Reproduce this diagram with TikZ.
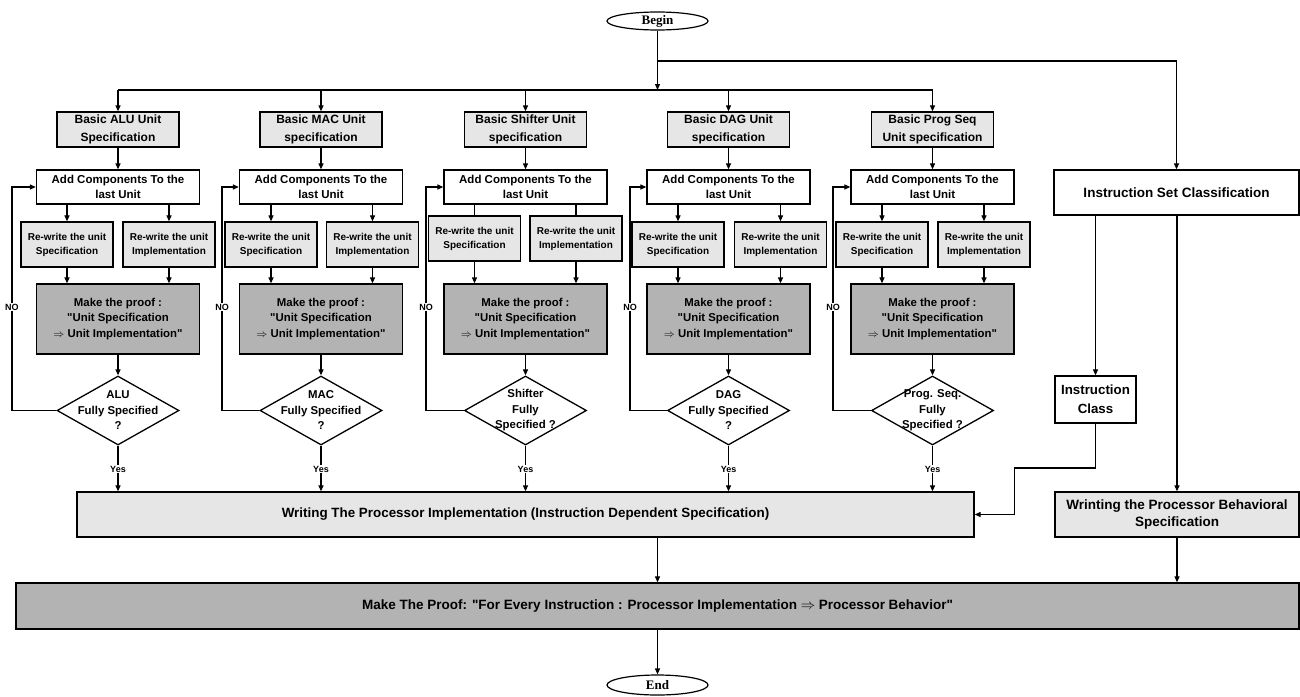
\documentclass[tikz,border=0pt]{standalone}
\usepackage{fontspec}
\setmainfont{Liberation Sans}[Ligatures=TeXOff]
\newfontfamily\serifbf{Liberation Serif}
\usetikzlibrary{arrows.meta,shapes.geometric}
\definecolor{lg}{HTML}{E6E6E6}
\definecolor{dg}{HTML}{B3B3B3}
\newcommand{\sq}{\symbol{34}}
\tikzset{
  bx/.style={draw, line width=1.3pt, inner sep=0pt, align=center, font=\bfseries},
  arr/.style={line width=1.2pt, -{Triangle[length=6pt,width=5pt]}},
  pln/.style={line width=1.2pt},
  basicbox/.style={bx, fill=lg, minimum width=122pt, minimum height=35pt, font=\bfseries\fontsize{12}{17.5}\selectfont},
  addbox/.style={bx, fill=white, minimum width=163pt, minimum height=34pt, font=\bfseries\fontsize{11.5}{14.3}\selectfont},
  rwbox/.style={bx, fill=lg, minimum width=92pt, minimum height=45pt, font=\bfseries\fontsize{10}{14}\selectfont},
  proofbox/.style={bx, fill=dg, minimum width=163pt, minimum height=70pt, font=\bfseries\fontsize{11.4}{15.5}\selectfont},
  dia/.style={draw, line width=1.3pt, shape=diamond, inner sep=0pt, minimum width=122pt, minimum height=69pt, fill=white},
  diatext/.style={align=center, inner sep=0pt, font=\bfseries\fontsize{11.4}{15.5}\selectfont},
  lbl/.style={fill=white, inner sep=1pt, font=\bfseries\fontsize{9}{10}\selectfont},
  oval/.style={draw, line width=1.2pt, shape=ellipse, inner sep=0pt, font=\serifbf\bfseries\fontsize{13}{14}\selectfont}
}
\begin{document}
\begin{tikzpicture}[x=1pt,y=-1pt]
\useasboundingbox (0,0) rectangle (1300,696);

\node[oval, minimum width=101pt, minimum height=18pt] (beg) at (657.5,21) {Begin};
\coordinate (bus) at (657.5,90);
\coordinate (br) at (657.5,61);
\draw[arr] (beg.south) -- (bus);

\foreach \i/\cx/\sx/\ix/\lx/\ry/\tip/\bt/\dt in {
  1/118/67/169/12/244.5/arr/{Basic ALU Unit\\Specification}/{ALU\\Fully Specified\\?},
  2/321/271/372.5/222/244.5/arr/{Basic MAC Unit\\specification}/{MAC\\Fully Specified\\?},
  3/525.5/474.5/576/426/238.5/pln/{Basic Shifter Unit\\specification}/{Shifter\\Fully\\Specified ?},
  4/728.5/678/780.5/630/244.5/arr/{Basic DAG Unit\\specification}/{DAG\\Fully Specified\\?},
  5/932.5/882/984/833/244.5/arr/{Basic Prog Seq\\Unit specification}/{Prog. Seq.\\Fully\\Specified ?}}{
  \node[basicbox] (b\i) at (\cx,129.5) {\bt};
  \node[addbox] (a\i) at (\cx,187) {Add Components To the\\last Unit};
  \node[rwbox] (s\i) at (\sx,\ry) {Re-write the unit\\Specification};
  \node[rwbox] (m\i) at (\ix,\ry) {Re-write the unit\\Implementation};
  \node[proofbox] (p\i) at (\cx,319) {Make the proof :\\\sq Unit Specification\\$\Rightarrow$ Unit Implementation\sq};
  \node[dia] (d\i) at (\cx,410.5) {};
  \node[diatext] (t\i) at (d\i.center) {\dt};
  \coordinate (lp\i) at (\lx,410.5);
  \coordinate (lq\i) at (\lx,187);
  \draw[arr] (b\i.north |- bus) -- (b\i.north);
  \draw[arr] (b\i.south) -- (a\i.north);
  \draw[\tip] (a\i.south -| s\i.north) -- (s\i.north);
  \draw[\tip] (a\i.south -| m\i.north) -- (m\i.north);
  \draw[arr] (s\i.south) -- (s\i.south |- p\i.north);
  \draw[arr] (m\i.south) -- (m\i.south |- p\i.north);
  \draw[arr] (p\i.south) -- (d\i.north);
  \draw[arr] (d\i.west) -- (lp\i) -- (lq\i) -- (a\i.west);
  \node[lbl] (no\i) at (\lx,307) {NO};
}
\draw[pln] (b1.north |- bus) -- (b5.north |- bus);

\node[bx, fill=white, minimum width=245pt, minimum height=45pt, font=\bfseries\fontsize{13.5}{16}\selectfont] (isc) at (1176.5,192.5) {Instruction Set Classification};
\draw[arr] (br) -| (isc.north);

\node[bx, fill=white, minimum width=81pt, minimum height=47pt, font=\bfseries\fontsize{13.3}{19}\selectfont] (ic) at (1095.5,399.5) {Instruction\\Class};
\draw[arr] (isc.south -| ic.north) -- (ic.north);

\node[bx, fill=lg, minimum width=897pt, minimum height=45pt, font=\bfseries\fontsize{13.4}{16}\selectfont] (wr) at (525.5,514.5) {Writing The Processor Implementation (Instruction Dependent Specification)};
\node[bx, fill=lg, minimum width=244pt, minimum height=45pt, font=\bfseries\fontsize{13.5}{17.7}\selectfont] (beh) at (1177,514.5) {Wrinting the Processor Behavioral\\Specification};
\node[bx, fill=dg, minimum width=1283pt, minimum height=46pt, font=\bfseries\fontsize{13.5}{16}\selectfont] (mp) at (657.5,606) {Make The Proof: \sq For Every Instruction : Processor Implementation $\Rightarrow$ Processor Behavior\sq};
\node[oval, minimum width=101pt, minimum height=20pt] (end) at (657.5,685) {End};

\foreach \i in {1,...,5}{
  \draw[arr] (d\i.south) -- (d\i.south |- wr.north);
  \node[lbl] (y\i) at (d\i.south |- 0,469) {Yes};
}
\draw[arr] (isc.south -| beh.north) -- (beh.north);
\coordinate (icturn) at (1014.5,468);
\draw[arr] (ic.south) |- (icturn) |- (wr.east);
\draw[arr] (wr.south -| beg) -- (mp.north -| beg);
\draw[arr] (beh.south) -- (beh.south |- mp.north);
\draw[arr] (mp.south -| end) -- (end.north);
\end{tikzpicture}
\end{document}
